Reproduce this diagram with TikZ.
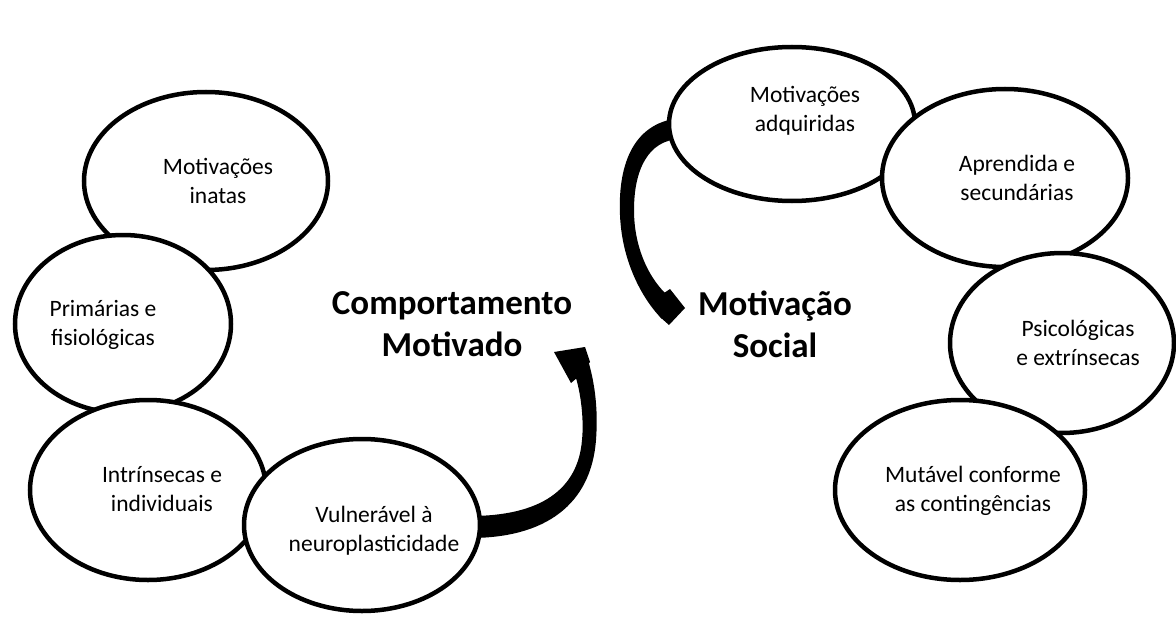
\documentclass[tikz,border=0pt]{standalone}
\usepackage{fontspec}
\setmainfont{Carlito}
\usetikzlibrary{shapes.geometric,calc}
\tikzset{
  bubble/.style={ellipse, draw=black, fill=white, line width=4.5pt, inner sep=0pt},
  btext/.style={align=center, font=\fontsize{23.5}{29}\selectfont, text=black, inner sep=0pt},
  title/.style={align=center, font=\fontsize{35}{42}\selectfont\bfseries, text=black, inner sep=0pt},
  bigarrow/.style={fill=black, draw=none}
}
\begin{document}
\begin{tikzpicture}[x=1pt,y=-1pt]
\useasboundingbox (0,0) rectangle (1176,618);

% tapered curved arrows (drawn first, tails hidden under bubbles)
\coordinate (tipL) at (554,352);
\coordinate (tipR) at (685,308);
% left arrow: shaft
\fill[bigarrow] (470,538) .. controls (545,538) and (591,505) .. (596,440)
  .. controls (599,400) and (592,370) .. (584,348)
  -- (576,360) -- (576,378)
  .. controls (581,395) and (584,420) .. (582,440)
  .. controls (578,490) and (540,516) .. (470,516) -- cycle;
% left arrow: head
\fill[bigarrow] (585,347) -- (tipL) -- (571,383) -- (578,377) -- (590,362) -- cycle;
% right arrow: shaft
\fill[bigarrow] (680,118) .. controls (630,123) and (618,170) .. (620,215)
  .. controls (622,265) and (645,302) .. (662,319)
  -- (672,305) -- (665,293)
  .. controls (647,275) and (634,245) .. (634,210)
  .. controls (634,170) and (648,140) .. (680,139) -- cycle;
% right arrow: head
\fill[bigarrow] (664,293) -- (670,289) -- (tipR) -- (669,325) -- (660,317) -- (656,303) -- cycle;

% left group
\node[bubble, minimum width=244pt, minimum height=178pt] (e1) at (206,181) {};
\node[bubble, minimum width=216pt, minimum height=178pt] (e2) at (123,324) {};
\node[bubble, minimum width=236pt, minimum height=180pt] (e3) at (148,490) {};
\node[bubble, minimum width=236pt, minimum height=172pt] (e4) at (362,525) {};
% right group
\node[bubble, minimum width=246pt, minimum height=154pt] (e5) at (792,124) {};
\node[bubble, minimum width=246pt, minimum height=178pt] (e6) at (1005,178) {};
\node[bubble, minimum width=224pt, minimum height=180pt] (e7) at (1062,343) {};
\node[bubble, minimum width=250pt, minimum height=180pt] (e8) at (960,490) {};

% texts
\node[btext] (t1) at (218,181) {Motivações\\inatas};
\node[btext] (t2) at (103,325) {Primárias e\\fisiológicas};
\node[btext] (t3) at (162,489) {Intrínsecas e\\individuais};
\node[btext] (t4) at (374,531) {Vulnerável à\\neuroplasticidade};
\node[btext] (t5) at (805,111) {Motivações\\adquiridas};
\node[btext] (t6) at (1017,178) {Aprendida e\\secundárias};
\node[btext] (t7) at (1078,343) {Psicológicas\\e extrínsecas};
\node[btext] (t8) at (973,491) {Mutável conforme\\as contingências};

\node[title] (cm) at (452,324) {Comportamento\\Motivado};
\node[title] (ms) at (775,324) {Motivação\\Social};
\end{tikzpicture}
\end{document}
